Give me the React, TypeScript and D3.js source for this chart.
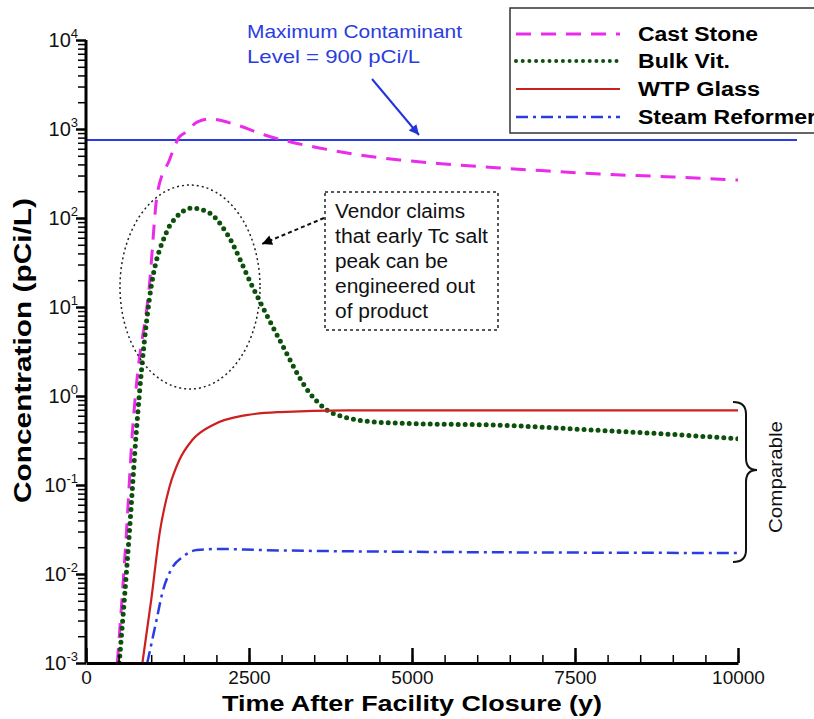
import React, { useEffect, useRef } from 'react';
import * as d3 from 'd3';

// series: time (y) and concentration (pCi/L)
const castStoneYears = [480, 620, 710, 770, 970, 1095, 1280, 1430, 1510, 1710, 1895, 2310, 2740, 3200, 3580, 4200, 4810, 5500, 6345, 7100, 7880, 9000, 10000];
const castStone = [0.001, 0.029, 0.38, 1.26, 16.8, 191, 449, 813, 900, 1200, 1295, 1110, 857, 697, 612, 511, 449, 405, 365, 337, 312, 289, 267];

const bulkVitYears = [510, 665, 770, 820, 970, 1230, 1390, 1630, 1895, 2155, 2555, 2970, 3430, 3690, 4000, 4300, 5000, 6345, 7880, 9000, 10000];
const bulkVit = [0.001, 0.029, 0.38, 1.08, 12, 68, 103, 129, 114, 68, 16.8, 4.26, 1.08, 0.7, 0.57, 0.52, 0.49, 0.47, 0.41, 0.37, 0.33];

const wtpYears = [865, 1000, 1130, 1280, 1430, 1630, 1940, 2460, 2970, 4000, 10000];
const wtpGlass = [0.001, 0.0051, 0.029, 0.095, 0.19, 0.32, 0.47, 0.61, 0.66, 0.69, 0.69];

const steamYears = [940, 1080, 1170, 1330, 1480, 1700, 2050, 2660, 4000, 10000];
const steamReformer = [0.001, 0.003, 0.0061, 0.012, 0.0155, 0.0186, 0.0191, 0.0186, 0.018, 0.0172];

const mclValue = 750;

const xMajor = [0, 2500, 5000, 7500, 10000];
const xMinor = d3.range(0, 10001, 500);
const yDecades = [-3, -2, -1, 0, 1, 2, 3, 4];

const legendNames = ['Cast Stone', 'Bulk Vit.', 'WTP Glass', 'Steam Reformer'];

const font = '"Liberation Sans", Arial, sans-serif';

export default function App() {
  const ref = useRef<SVGSVGElement>(null);

  useEffect(() => {
    const svg = d3.select(ref.current);
    svg.selectAll('*').remove();

    const x = d3.scaleLinear().domain([0, 10000]).range([86, 738]);
    const y = d3.scaleLog().domain([1e-3, 1e4]).range([663, 40]);

    const defs = svg.append('defs');
    defs.append('clipPath').attr('id', 'plot')
      .append('rect').attr('x', 86).attr('y', 40).attr('width', 652).attr('height', 623);
    const mk = (id: string, color: string) =>
      defs.append('marker').attr('id', id)
        .attr('viewBox', '0 0 10 10').attr('refX', 10).attr('refY', 5)
        .attr('markerWidth', 12).attr('markerHeight', 10).attr('markerUnits', 'userSpaceOnUse')
        .attr('orient', 'auto')
        .append('path').attr('d', 'M0,0 L10,5 L0,10 Z').attr('fill', color);
    mk('arrBlue', '#2233dd');
    mk('arrBlack', '#000');

    // series
    const line = d3.line<[number, number]>()
      .x(d => x(d[0])).y(d => y(d[1]))
      .curve(d3.curveMonotoneX);
    const zip = (t: number[], v: number[]) => t.map((d, i) => [d, v[i]] as [number, number]);

    const series = [
      { data: zip(castStoneYears, castStone), color: '#ea2bea', width: 3, dash: '15 10', cap: 'butt' },
      { data: zip(bulkVitYears, bulkVit), color: '#0b500b', width: 5, dash: '0 7', cap: 'round' },
      { data: zip(wtpYears, wtpGlass), color: '#cc2020', width: 2.2, dash: null, cap: 'butt' },
      { data: zip(steamYears, steamReformer), color: '#2b3de0', width: 2.5, dash: '12 5 3 5', cap: 'butt' },
    ];

    // MCL line
    svg.append('line')
      .attr('x1', 86).attr('x2', 797)
      .attr('y1', y(mclValue)).attr('y2', y(mclValue))
      .attr('stroke', '#2b3de0').attr('stroke-width', 2);

    const g = svg.append('g').attr('clip-path', 'url(#plot)');
    series.forEach(s => {
      g.append('path')
        .attr('d', line(s.data))
        .attr('fill', 'none')
        .attr('stroke', s.color)
        .attr('stroke-width', s.width)
        .attr('stroke-dasharray', s.dash)
        .attr('stroke-linecap', s.cap);
    });

    // axes
    const xa = svg.append('g').attr('transform', 'translate(0,663)')
      .call(d3.axisBottom(x).tickValues(xMinor).tickSize(-8).tickSizeOuter(0).tickFormat(() => ''));
    xa.select('.domain').remove();
    xa.selectAll('line').attr('stroke-width', 1.5);
    const xb = svg.append('g').attr('transform', 'translate(0,663)')
      .call(d3.axisBottom(x).tickValues(xMajor).tickSize(-15).tickPadding(8).tickSizeOuter(0).tickFormat(d3.format('d')));
    xb.select('.domain').attr('stroke-width', 3);
    xb.selectAll('line').attr('stroke-width', 2.5);
    xb.selectAll('text').attr('font-size', 19).attr('font-family', font).attr('fill', '#111');

    const yMinor: number[] = [];
    yDecades.slice(0, -1).forEach(k => { for (let m = 2; m <= 9; m++) yMinor.push(m * Math.pow(10, k)); });
    const ya = svg.append('g').attr('transform', 'translate(86,0)')
      .call(d3.axisLeft(y).tickValues(yMinor).tickSize(8).tickSizeOuter(0).tickFormat(() => ''));
    ya.select('.domain').remove();
    ya.selectAll('line').attr('stroke-width', 1.5);
    const yb = svg.append('g').attr('transform', 'translate(86,0)')
      .call(d3.axisLeft(y).tickValues(yDecades.map(k => Math.pow(10, k))).tickSize(10).tickSizeOuter(0).tickFormat(() => ''));
    yb.select('.domain').attr('stroke-width', 3).attr('d', 'M0,663V40');
    yb.selectAll('line').attr('stroke-width', 2.5);
    yb.selectAll('.tick text').remove();
    yDecades.forEach(k => {
      const t = svg.append('text')
        .attr('x', 78).attr('y', y(Math.pow(10, k)) + 7)
        .attr('text-anchor', 'end').attr('font-family', font).attr('fill', '#111');
      t.append('tspan').attr('font-size', 20).text('10');
      t.append('tspan').attr('font-size', 13).attr('dy', -9).text(String(k));
    });

    // axis titles
    svg.append('text')
      .attr('x', 222).attr('y', 711)
      .attr('textLength', 380).attr('lengthAdjust', 'spacingAndGlyphs')
      .attr('font-family', font).attr('font-weight', 'bold').attr('font-size', 22)
      .text('Time After Facility Closure (y)');
    svg.append('text')
      .attr('transform', 'translate(31,503) rotate(-90)')
      .attr('textLength', 305).attr('lengthAdjust', 'spacingAndGlyphs')
      .attr('font-family', font).attr('font-weight', 'bold').attr('font-size', 24)
      .text('Concentration (pCi/L)');

    // legend
    svg.append('rect').attr('x', 510).attr('y', 8).attr('width', 320).attr('height', 125)
      .attr('fill', '#fff').attr('stroke', '#333').attr('stroke-width', 1.5);
    const rowY = [34, 61, 89, 117];
    const legLen = [120, 92, 122, 178];
    series.forEach((s, i) => {
      svg.append('line')
        .attr('x1', 516).attr('x2', 620).attr('y1', rowY[i]).attr('y2', rowY[i])
        .attr('stroke', s.color)
        .attr('stroke-width', s.width === 5 ? 4 : s.width)
        .attr('stroke-dasharray', s.dash === '0 7' ? '0 6.7' : s.dash)
        .attr('stroke-linecap', s.cap);
      svg.append('text')
        .attr('x', 638).attr('y', rowY[i] + 7)
        .attr('textLength', legLen[i]).attr('lengthAdjust', 'spacingAndGlyphs')
        .attr('font-family', font).attr('font-weight', 'bold').attr('font-size', 20)
        .text(legendNames[i]);
    });

    // MCL annotation
    const blueLines = [['Maximum Contaminant', 38, 215], ['Level = 900 pCi/L', 63, 173]] as const;
    blueLines.forEach(([txt, by, len]) => {
      svg.append('text').attr('x', 247).attr('y', by)
        .attr('textLength', len).attr('lengthAdjust', 'spacingAndGlyphs')
        .attr('font-family', font).attr('font-size', 19).attr('fill', '#2b3de0')
        .text(txt);
    });
    svg.append('line').attr('x1', 372).attr('y1', 79).attr('x2', 419).attr('y2', 135)
      .attr('stroke', '#2233dd').attr('stroke-width', 2).attr('marker-end', 'url(#arrBlue)');

    // vendor claim annotation
    svg.append('ellipse').attr('cx', 190).attr('cy', 287).attr('rx', 70).attr('ry', 102)
      .attr('fill', 'none').attr('stroke', '#222').attr('stroke-width', 1.5).attr('stroke-dasharray', '2 3');
    svg.append('rect').attr('x', 325).attr('y', 192).attr('width', 173).attr('height', 138)
      .attr('fill', 'none').attr('stroke', '#222').attr('stroke-width', 1.5).attr('stroke-dasharray', '3 3');
    const vendor = [['Vendor claims', 130], ['that early Tc salt', 153], ['peak can be', 113], ['engineered out', 140], ['of product', 93]] as const;
    vendor.forEach(([txt, len], i) => {
      svg.append('text').attr('x', 335).attr('y', 218 + i * 25)
        .attr('textLength', len).attr('lengthAdjust', 'spacingAndGlyphs')
        .attr('font-family', font).attr('font-size', 20).attr('fill', '#111')
        .text(txt);
    });
    svg.append('line').attr('x1', 324).attr('y1', 218).attr('x2', 262).attr('y2', 244)
      .attr('stroke', '#111').attr('stroke-width', 2).attr('stroke-dasharray', '4 3')
      .attr('marker-end', 'url(#arrBlack)');

    // comparable brace
    svg.append('path')
      .attr('d', 'M733,402 Q746,402 746,414 L746,458 Q746,470 757,470 Q746,470 746,482 L746,550 Q746,562 733,562')
      .attr('fill', 'none').attr('stroke', '#111').attr('stroke-width', 2);
    svg.append('text')
      .attr('transform', 'translate(782,533) rotate(-90)')
      .attr('textLength', 112).attr('lengthAdjust', 'spacingAndGlyphs')
      .attr('font-family', font).attr('font-size', 19).attr('fill', '#111')
      .text('Comparable');
  }, []);

  return (
    <svg ref={ref} width={814} height={719}
      style={{ position: 'absolute', left: 0, top: 0, background: '#fff' }} />
  );
}
